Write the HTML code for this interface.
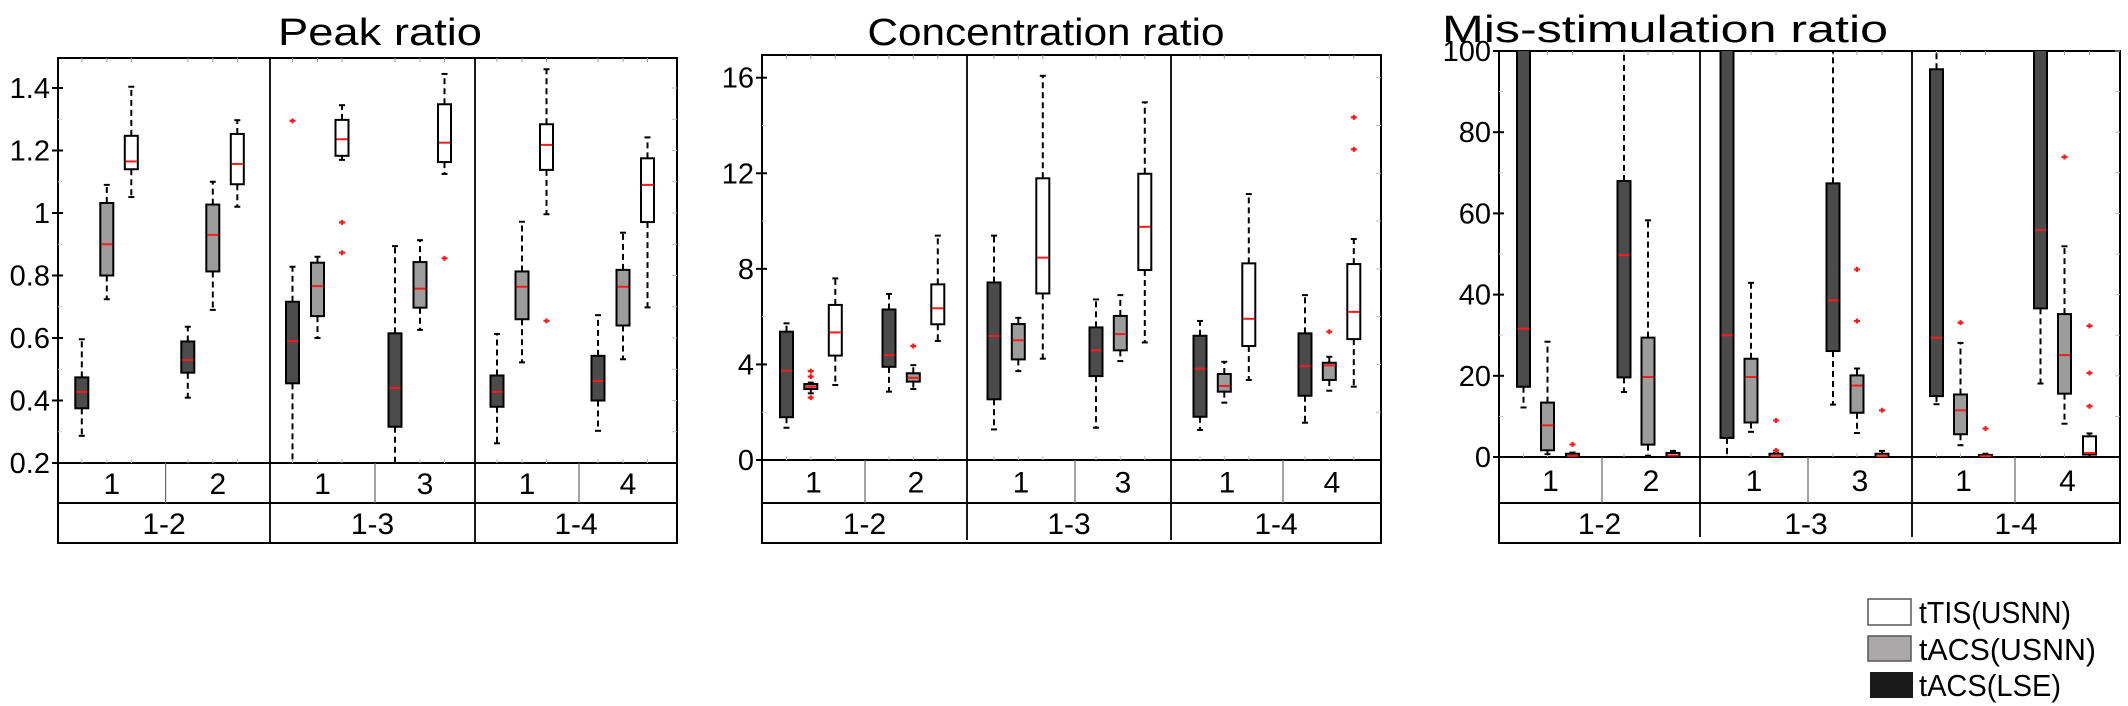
<!DOCTYPE html>
<html><head><meta charset="utf-8"><style>
html,body{margin:0;padding:0;background:#fff;}
svg{display:block;font-family:"Liberation Sans",sans-serif;}
</style></head><body>
<svg id="fig" width="2128" height="706" viewBox="0 0 2128 706" xmlns="http://www.w3.org/2000/svg">
<defs>
<clipPath id="c0"><rect x="58" y="58" width="619" height="405"/></clipPath>
<clipPath id="c1"><rect x="762" y="55" width="619" height="405"/></clipPath>
<clipPath id="c2"><rect x="1499" y="51" width="621" height="406"/></clipPath>
</defs>
<g>
<rect x="1868" y="599" width="43" height="26" fill="#fff" stroke="#555" stroke-width="1.5"/>
<text x="1919" y="623" font-size="31" textLength="152" lengthAdjust="spacingAndGlyphs">tTIS(USNN)</text>
<rect x="1868" y="636" width="43" height="25" fill="#aaa8a8" stroke="#555" stroke-width="1.5"/>
<text x="1919" y="660" font-size="31" textLength="177" lengthAdjust="spacingAndGlyphs">tACS(USNN)</text>
<rect x="1870" y="672" width="43" height="26" fill="#1a1a1a"/>
<text x="1919" y="696" font-size="31" textLength="142" lengthAdjust="spacingAndGlyphs">tACS(LSE)</text>
</g>
</svg>
<script>
const cellLabels = ['1','2','1','3','1','4'];
const groupLabels = ['1-2','1-3','1-4'];
const seriesNames = ['tACS(LSE)','tACS(USNN)','tTIS(USNN)'];
const panelTitles = ['Peak ratio','Concentration ratio','Mis-stimulation ratio'];

const peakLo  = [0.287,0.724,1.051, 0.409,0.69,1.02, 0.15,0.6,1.17, 0.19,0.626,1.125, 0.263,0.522,0.996, 0.303,0.532,0.698];
const peakQ1  = [0.375,0.80,1.14, 0.489,0.813,1.092, 0.455,0.67,1.183, 0.316,0.697,1.163, 0.38,0.66,1.138, 0.4,0.64,0.971];
const peakMed = [0.428,0.90,1.165, 0.53,0.93,1.157, 0.59,0.766,1.236, 0.44,0.758,1.225, 0.428,0.764,1.218, 0.462,0.764,1.09];
const peakQ3  = [0.474,1.032,1.247, 0.589,1.027,1.253, 0.716,0.841,1.298, 0.615,0.843,1.348, 0.48,0.813,1.284, 0.543,0.818,1.175];
const peakHi  = [0.596,1.09,1.404, 0.636,1.10,1.297, 0.828,0.86,1.345, 0.894,0.913,1.445, 0.613,0.972,1.46, 0.673,0.937,1.242];
const peakOut = [[2,0,1.295],[2,2,0.97],[2,2,0.873],[3,2,0.855],[4,2,0.655]];
const peakTicks = [0.2,0.4,0.6,0.8,1,1.2,1.4];
const peakTickLabels = ['0.2','0.4','0.6','0.8','1','1.2','1.4'];

const concLo  = [1.35,2.79,3.14, 2.86,2.97,4.98, 1.28,3.72,4.24, 1.35,4.14,4.92, 1.26,2.4,3.35, 1.56,2.9,3.07];
const concQ1  = [1.79,2.97,4.37, 3.9,3.28,5.68, 2.54,4.21,6.97, 3.51,4.59,7.95, 1.81,2.86,4.77, 2.69,3.35,5.06];
const concMed = [3.74,3.07,5.34, 4.39,3.44,6.35, 5.19,5.01,8.47, 4.59,5.27,9.76, 3.82,3.1,5.91, 3.93,3.96,6.2];
const concQ3  = [5.37,3.18,6.49, 6.3,3.63,7.35, 7.43,5.69,11.79, 5.55,6.03,11.98, 5.2,3.6,8.23, 5.3,4.07,8.2];
const concHi  = [5.72,3.24,7.6, 6.95,3.97,9.39, 9.39,5.95,16.08, 6.72,6.9,14.97, 5.82,4.11,11.13, 6.9,4.32,9.25];
const concOut = [[0,1,3.72],[0,1,3.49],[0,1,2.61],[1,1,4.77],[5,1,5.37],[5,2,14.34],[5,2,13.0]];
const concTicks = [0,4,8,12,16];
const concTickLabels = ['0','4','8','12','16'];

const misLo  = [12.2,0.7,0, 16.0,0.3,0, 0,6.2,0, 12.9,5.9,0, 13.0,2.9,0, 18.1,8.2,0];
const misQ1  = [17.3,1.65,0, 19.6,3.05,0, 4.7,8.5,0, 26.1,10.9,0, 15.0,5.6,0, 36.6,15.6,0.6];
const misMed = [31.6,7.8,0.3, 49.7,19.7,0.4, 30,19.7,0.2, 38.6,17.6,0.2, 29.4,11.5,0.2, 55.9,25.1,1.0];
const misQ3  = [110,13.4,0.8, 68,29.4,1.0, 110,24.2,0.8, 67.4,20.1,0.8, 95.5,15.4,0.5, 110,35.2,5.1];
const misHi  = [120,28.4,1.1, 120,58.3,1.5, 120,42.9,1.0, 120,21.8,1.5, 120,28.1,0.8, 120,51.9,5.8];
const misOut = [[0,2,3.1],[2,2,9.0],[2,2,1.6],[3,1,46.2],[3,1,33.5],[3,2,11.5],[4,1,33.1],[4,2,7.0],[5,1,73.9],[5,2,32.3],[5,2,20.7],[5,2,12.5]];
const misTicks = [0,20,40,60,80,100];
const misTickLabels = ['0','20','40','60','80','100'];

const NS = 'http://www.w3.org/2000/svg';
const svg = document.getElementById('fig');
function mk(tag, attrs, parent){
  const e = document.createElementNS(NS, tag);
  for (const k in attrs) e.setAttribute(k, attrs[k]);
  (parent||svg).appendChild(e);
  return e;
}
const fills = ['#4b4b4b','#9c9c9c','#ffffff'];

const panels = [
  {L:58,R:677,T:58,B:463,vmin:0.2,vmax:1.496,bounds:[58,165.6,270,375,475,579,677],offs:[-30,-5,19.5],
   lo:peakLo,q1:peakQ1,med:peakMed,q3:peakQ3,hi:peakHi,out:peakOut,ticks:peakTicks,tl:peakTickLabels,
   titleX:380,titleY:45,titleW:204,clip:'c0',name:'peak'},
  {L:762,R:1381,T:55,B:460,vmin:0,vmax:16.95,bounds:[762,865,967,1075,1171,1283,1381],offs:[-27,-2.7,21.8],
   lo:concLo,q1:concQ1,med:concMed,q3:concQ3,hi:concHi,out:concOut,ticks:concTicks,tl:concTickLabels,
   titleX:1046,titleY:45,titleW:357,clip:'c1',name:'concentration'},
  {L:1499,R:2120,T:51,B:457,vmin:0,vmax:100,bounds:[1499,1602,1700,1808,1912,2015,2120],offs:[-27,-3,22],
   lo:misLo,q1:misQ1,med:misMed,q3:misQ3,hi:misHi,out:misOut,ticks:misTicks,tl:misTickLabels,
   titleX:1665,titleY:42,titleW:446,clip:'c2',name:'mis-stimulation'}
];

panels.forEach((p, pi) => {
  const g = mk('g', {});
  
  
  const y = v => p.B - (v - p.vmin) / (p.vmax - p.vmin) * (p.B - p.T);
  const cx = (c, s) => (p.bounds[c] + p.bounds[c+1]) / 2 + p.offs[s];

  const t = mk('text', {x:p.titleX, y:p.titleY, 'font-size':38, 'text-anchor':'middle', textLength:p.titleW, lengthAdjust:'spacingAndGlyphs'}, g);
  t.textContent = panelTitles[pi];
  
  

  const fr = mk('rect', {x:p.L, y:p.T, width:p.R-p.L, height:p.B-p.T, fill:'none', stroke:'#000', 'stroke-width':2}, g);
  
  
  [2,4].forEach(i => {
    const d = mk('line', {x1:p.bounds[i], x2:p.bounds[i], y1:p.T, y2:p.B+80, stroke:'#000', 'stroke-width':1.8}, g);
    
    
  });
  p.ticks.forEach((v, i) => {
    const ty = y(v);
    const tk = mk('line', {x1:p.L-6, x2:p.L+5, y1:ty, y2:ty, stroke:'#000', 'stroke-width':2}, g);
    
    
    const tl = mk('text', {x:p.L-8, y:ty+10, 'font-size':29, 'text-anchor':'end'}, g);
    tl.textContent = p.tl[i];
    
    
    mk('line', {x1:p.R-5, x2:p.R, y1:ty, y2:ty, stroke:'#bbb', 'stroke-width':1}, g);
    if (i < p.ticks.length-1) {
      const my = y((v + p.ticks[i+1]) / 2);
      mk('line', {x1:p.R-5, x2:p.R, y1:my, y2:my, stroke:'#bbb', 'stroke-width':1}, g);
      mk('line', {x1:p.L, x2:p.L+4, y1:my, y2:my, stroke:'#ccc', 'stroke-width':1}, g);
    }
  });
  const rowMid = p.B + (503 - p.B) / 2;
  const tb = mk('g', {}, g);
  
  
  mk('rect', {x:p.L, y:p.B, width:p.R-p.L, height:543-p.B, fill:'none', stroke:'#000', 'stroke-width':2}, tb);
  mk('line', {x1:p.L, x2:p.R, y1:503, y2:503, stroke:'#000', 'stroke-width':2}, tb);
  [1,3,5].forEach(i => mk('line', {x1:p.bounds[i], x2:p.bounds[i], y1:p.B, y2:503, stroke:'#666', 'stroke-width':1.2}, tb));
  for (let c = 0; c < 6; c++) {
    const lx = (p.bounds[c] + p.bounds[c+1]) / 2;
    const ct = mk('text', {x:lx, y:rowMid+11, 'font-size':30, 'text-anchor':'middle'}, tb);
    ct.textContent = cellLabels[c];
    
    
    for (let s = 0; s < 3; s++) {
      mk('line', {x1:cx(c,s), x2:cx(c,s), y1:p.T, y2:p.T+4, stroke:'#999', 'stroke-width':1}, g);
      mk('line', {x1:cx(c,s), x2:cx(c,s), y1:p.B-4, y2:p.B, stroke:'#bbb', 'stroke-width':1}, g);
    }
  }
  for (let k = 0; k < 3; k++) {
    const gx = (p.bounds[2*k] + p.bounds[2*k+2]) / 2;
    const gt = mk('text', {x:gx, y:534, 'font-size':30, 'text-anchor':'middle'}, tb);
    gt.textContent = groupLabels[k];
    
    
  }
  const bg = mk('g', {'clip-path':'url(#'+p.clip+')'}, g);
  for (let c = 0; c < 6; c++) {
    for (let s = 0; s < 3; s++) {
      const i = c*3 + s, x = cx(c, s), w = 13;
      const bx = mk('g', {}, bg);
      
      
      const yl = y(p.lo[i]), y1 = y(p.q1[i]), ym = y(p.med[i]), y3 = y(p.q3[i]), yh = y(p.hi[i]);
      mk('line', {x1:x, x2:x, y1:y3, y2:yh, stroke:'#000', 'stroke-width':2, 'stroke-dasharray':'6,4'}, bx);
      mk('line', {x1:x, x2:x, y1:y1, y2:yl, stroke:'#000', 'stroke-width':2, 'stroke-dasharray':'6,4'}, bx);
      mk('line', {x1:x-3, x2:x+3, y1:yh, y2:yh, stroke:'#000', 'stroke-width':2}, bx);
      mk('line', {x1:x-3, x2:x+3, y1:yl, y2:yl, stroke:'#000', 'stroke-width':2}, bx);
      mk('rect', {x:x-w/2, y:y3, width:w, height:Math.max(1, y1-y3), fill:fills[s], stroke:'#000', 'stroke-width':2}, bx);
      mk('line', {x1:x-w/2+1, x2:x+w/2-1, y1:ym, y2:ym, stroke:'#ff1a1a', 'stroke-width':2}, bx);
    }
  }
  p.out.forEach(o => {
    const x = cx(o[0], o[1]), oy = y(o[2]);
    const m = mk('path', {d:`M${x-3},${oy}H${x+3}M${x},${oy-2.5}V${oy+2.5}`, stroke:'#ff1a1a', 'stroke-width':2.2}, bg);
    
    
  });
});
</script>
</body></html>
